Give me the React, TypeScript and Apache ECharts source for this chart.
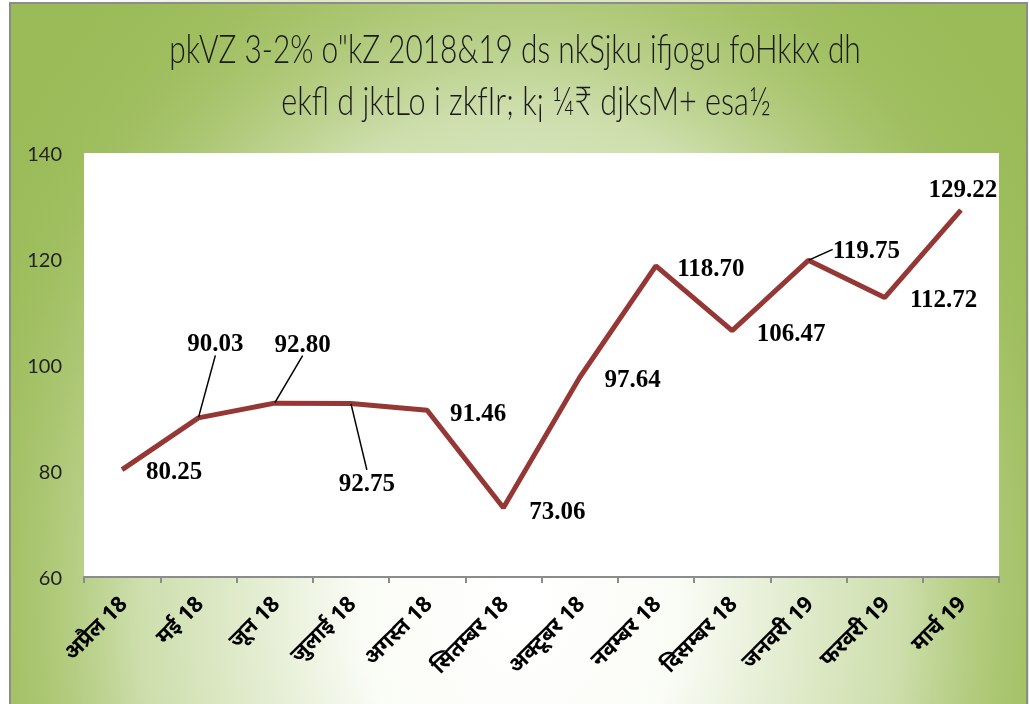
import React, { useEffect, useRef } from "react";
import * as echarts from "echarts";

const titleLines = [
  'pkVZ 3-2% o"kZ 2018&19 ds nkSjku ifjogu foHkkx dh',
  "ekfl d jktLo i zkfIr; k¡ ¼₹ djksM+ esa½",
];
const months = [
  "अप्रैल 18",
  "मई 18",
  "जून 18",
  "जुलाई 18",
  "अगस्त 18",
  "सितम्बर 18",
  "अक्टूबर 18",
  "नवम्बर 18",
  "दिसम्बर 18",
  "जनवरी 19",
  "फरवरी 19",
  "मार्च 19",
];
const revenue = [80.25, 90.03, 92.8, 92.75, 91.46, 73.06, 97.64, 118.7, 106.47, 119.75, 112.72, 129.22];
const yMin = 60;
const yMax = 140;
const yStep = 20;

// presentation only: title placement and label offsets
const titleFont = "300 40px Lato, 'Open Sans', sans-serif";
const titleBoxes = [
  { cx: 515, cy: 48, w: 692 },
  { cx: 526, cy: 100, w: 490 },
];
const labelDx = [52, 17, 28, 16, 51, 54, 53, 55, 59, 58, 59, 2];
const labelDy = [1, -75, -60, 79, 2, 3, 1, 2, 2, -11, 1, -22];
const leaderLine = [false, true, true, true, false, false, false, false, false, true, false, false];

function measure(text: string, font: string): number {
  const c = document.createElement("canvas").getContext("2d");
  if (!c) return 1;
  c.font = font;
  return c.measureText(text).width || 1;
}

export default function App() {
  const ref = useRef<HTMLDivElement>(null);
  useEffect(() => {
    if (!ref.current) return;
    const chart = echarts.init(ref.current, undefined, { renderer: "svg" });
    const titleGraphics = titleLines.map((t, i) => {
      const b = titleBoxes[i];
      const s = b.w / measure(t, titleFont);
      return {
        type: "text",
        x: b.cx,
        y: b.cy,
        scaleX: s,
        z: 5,
        silent: true,
        style: {
          text: t,
          font: titleFont,
          fill: "#1a1a1a",
          align: "center",
          verticalAlign: "middle",
        },
      };
    });
    chart.setOption({
      animation: false,
      graphic: [
        {
          type: "rect",
          z: -10,
          silent: true,
          shape: { x: 10, y: 3, width: 1017, height: 702 },
          style: { fill: "#9bbb59", stroke: "#8c8c8c", lineWidth: 2 },
        },
        {
          type: "ellipse",
          z: -9,
          silent: true,
          shape: { cx: 520, cy: 600, rx: 640, ry: 820 },
          style: {
            fill: new echarts.graphic.RadialGradient(0.5, 0.5, 0.5, [
              { offset: 0, color: "rgba(255,255,255,1)" },
              { offset: 0.25, color: "rgba(250,252,246,1)" },
              { offset: 0.6, color: "rgba(214,228,186,0.85)" },
              { offset: 0.85, color: "rgba(170,198,110,0.3)" },
              { offset: 1, color: "rgba(155,187,89,0)" },
            ]),
          },
        },
        {
          type: "rect",
          z: -8,
          silent: true,
          shape: { x: 0, y: 0, width: 9, height: 704 },
          style: { fill: "#ffffff" },
        },
        {
          type: "rect",
          z: -8,
          silent: true,
          shape: { x: 10, y: 3, width: 1017, height: 702 },
          style: { fill: "none", stroke: "#8c8c8c", lineWidth: 2 },
        },
        ...titleGraphics,
      ],
      grid: {
        left: 84,
        right: 30,
        top: 153,
        bottom: 127,
        show: true,
        backgroundColor: "#ffffff",
        borderWidth: 0,
      },
      xAxis: {
        type: "category",
        data: months,
        boundaryGap: true,
        axisLine: { show: true, lineStyle: { color: "#8c8c8c", width: 2 } },
        axisTick: { show: true, length: 6, lineStyle: { color: "#8c8c8c", width: 2 } },
        axisLabel: {
          rotate: 45,
          margin: 22,
          fontSize: 22,
          fontWeight: "bold",
          color: "#000",
          fontFamily: "'Noto Sans', 'DejaVu Sans', sans-serif",
        },
      },
      yAxis: {
        type: "value",
        min: yMin,
        max: yMax,
        interval: yStep,
        axisLine: { show: false },
        axisTick: { show: false },
        splitLine: { show: false },
        axisLabel: {
          margin: 22,
          fontSize: 20,
          color: "#222",
          fontFamily: "Lato, 'Open Sans', sans-serif",
        },
      },
      series: [
        {
          type: "line",
          data: revenue.map((v, i) => ({
            value: v,
            labelLine: { show: leaderLine[i] },
          })),
          symbol: "circle",
          symbolSize: 1,
          showSymbol: true,
          itemStyle: { color: "#953735" },
          lineStyle: { color: "#953735", width: 5 },
          label: {
            show: true,
            position: "inside",
            formatter: (p: any) => Number(p.value).toFixed(2),
            fontFamily: "'Liberation Serif', 'Times New Roman', serif",
            fontWeight: "bold",
            fontSize: 25,
            color: "#000",
          },
          labelLine: {
            show: false,
            lineStyle: { color: "#000", width: 1.5 },
          },
          labelLayout: (params: any) => ({
            dx: labelDx[params.dataIndex],
            dy: labelDy[params.dataIndex],
          }),
        },
      ],
    });
    return () => chart.dispose();
  }, []);
  return (
    <div
      ref={ref}
      style={{ position: "fixed", left: 0, top: 0, width: 1029, height: 704 }}
    />
  );
}
